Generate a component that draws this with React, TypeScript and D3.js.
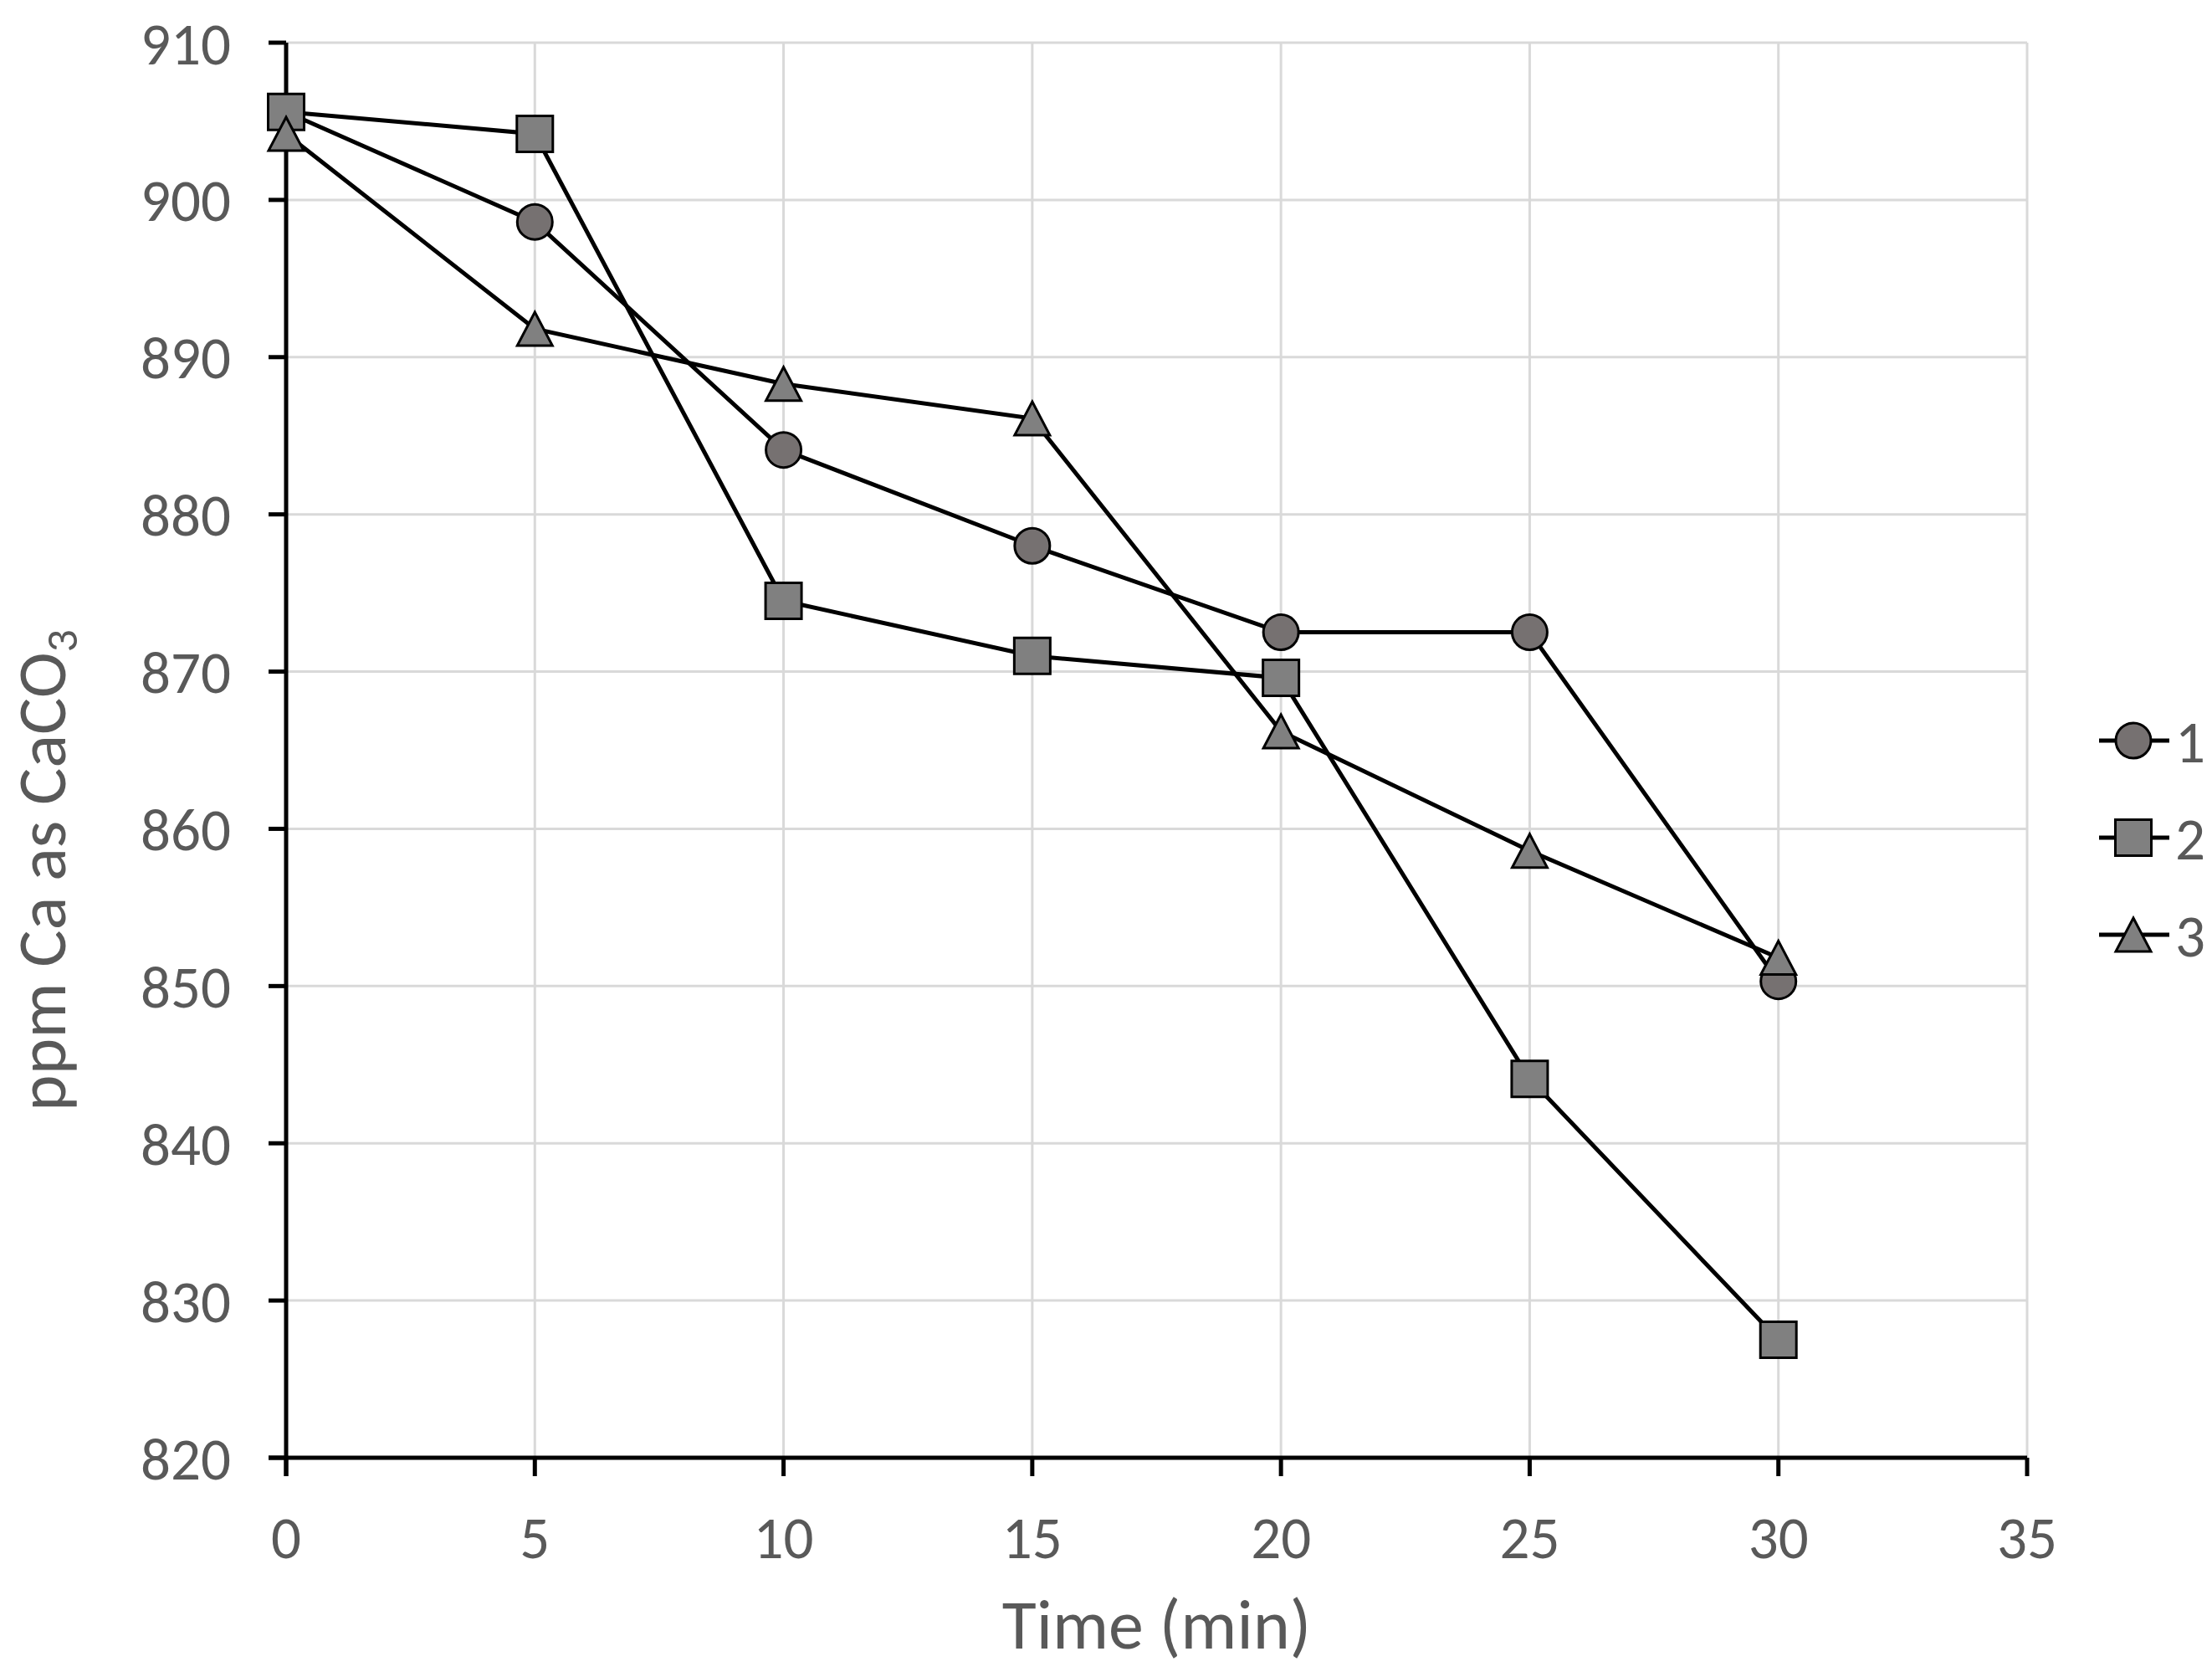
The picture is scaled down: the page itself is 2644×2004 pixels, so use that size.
import React from 'react';
import * as d3 from 'd3';

const times = [0, 5, 10, 15, 20, 25, 30];
const series1 = [905.6, 898.6, 884.1, 878.0, 872.5, 872.5, 850.3];
const series2 = [905.6, 904.2, 874.5, 871.0, 869.6, 844.1, 827.5];
const series3 = [904.2, 891.8, 888.3, 886.1, 866.2, 858.6, 851.8];
const seriesNames = ['1', '2', '3'];
const xTicks = [0, 5, 10, 15, 20, 25, 30, 35];
const yTicks = [820, 830, 840, 850, 860, 870, 880, 890, 900, 910];

const W = 2644;
const H = 2004;
const FONT = "Carlito, Calibri, Lato, 'Open Sans', sans-serif";
const TEXT = '#595959';
const GRID = '#d9d9d9';

const x = d3.scaleLinear().domain([0, 35]).range([342, 2423]);
const y = d3.scaleLinear().domain([820, 910]).range([1742, 51]);

const line = d3
  .line<number>()
  .x((_, i) => x(times[i]))
  .y((d) => y(d));

const circlePath = d3.symbol(d3.symbolCircle, Math.PI * 21 * 21)() as string;
const squarePath = d3.symbol(d3.symbolSquare, 43 * 43)() as string;
const trianglePath = 'M0,-20L21,20L-21,20Z';

const series = [
  { name: seriesNames[0], values: series1, shape: circlePath, fill: '#767171' },
  { name: seriesNames[1], values: series2, shape: squarePath, fill: '#808080' },
  { name: seriesNames[2], values: series3, shape: trianglePath, fill: '#808080' },
];

export default function App() {
  return (
    <svg
      width={W}
      height={H}
      style={{ position: 'absolute', left: 0, top: 0, background: '#fff' }}
      fontFamily={FONT}
    >
      {/* gridlines */}
      {yTicks.map((t) => (
        <line key={'gy' + t} x1={x(0)} x2={x(35)} y1={y(t)} y2={y(t)} stroke={GRID} strokeWidth={3} />
      ))}
      {xTicks.map((t) => (
        <line key={'gx' + t} x1={x(t)} x2={x(t)} y1={y(820)} y2={y(910)} stroke={GRID} strokeWidth={3} />
      ))}

      {/* axes */}
      <line x1={x(0)} x2={x(0)} y1={y(910)} y2={y(820) + 22} stroke="#000" strokeWidth={5} />
      <line x1={x(0) - 21} x2={x(35)} y1={y(820)} y2={y(820)} stroke="#000" strokeWidth={5} />
      {yTicks.map((t) => (
        <g key={'ty' + t}>
          <line x1={x(0) - 21} x2={x(0)} y1={y(t)} y2={y(t)} stroke="#000" strokeWidth={5} />
          <text x={276} y={y(t)} dy="0.36em" textAnchor="end" fontSize={71} fill={TEXT}>
            {t}
          </text>
        </g>
      ))}
      {xTicks.map((t) => (
        <g key={'tx' + t}>
          <line x1={x(t)} x2={x(t)} y1={y(820)} y2={y(820) + 22} stroke="#000" strokeWidth={5} />
          <text x={x(t)} y={1862} textAnchor="middle" fontSize={71} fill={TEXT}>
            {t}
          </text>
        </g>
      ))}

      {/* axis titles */}
      <text x={(x(0) + x(35)) / 2} y={1970} textAnchor="middle" fontSize={84} fill={TEXT}>
        Time (min)
      </text>
      <text
        transform={`translate(78, ${1040}) rotate(-90)`}
        textAnchor="middle"
        fontSize={83}
        fill={TEXT}
      >
        ppm Ca as CaCO<tspan fontSize={54} dy={14}>3</tspan>
      </text>

      {/* series */}
      {series.map((s) => (
        <g key={s.name}>
          <path d={line(s.values) as string} fill="none" stroke="#000" strokeWidth={5} />
          {s.values.map((v, i) => (
            <path
              key={i}
              d={s.shape}
              transform={`translate(${x(times[i])},${y(v)})`}
              fill={s.fill}
              stroke="#000"
              strokeWidth={3}
            />
          ))}
        </g>
      ))}

      {/* legend */}
      {series.map((s, i) => {
        const ly = 885 + i * 116;
        return (
          <g key={'lg' + s.name}>
            <line x1={2509} x2={2593} y1={ly} y2={ly} stroke="#000" strokeWidth={5} />
            <path d={s.shape} transform={`translate(2550,${ly})`} fill={s.fill} stroke="#000" strokeWidth={3} />
            <text x={2600} y={ly} dy="0.36em" fontSize={71} fill={TEXT}>
              {s.name}
            </text>
          </g>
        );
      })}
    </svg>
  );
}
